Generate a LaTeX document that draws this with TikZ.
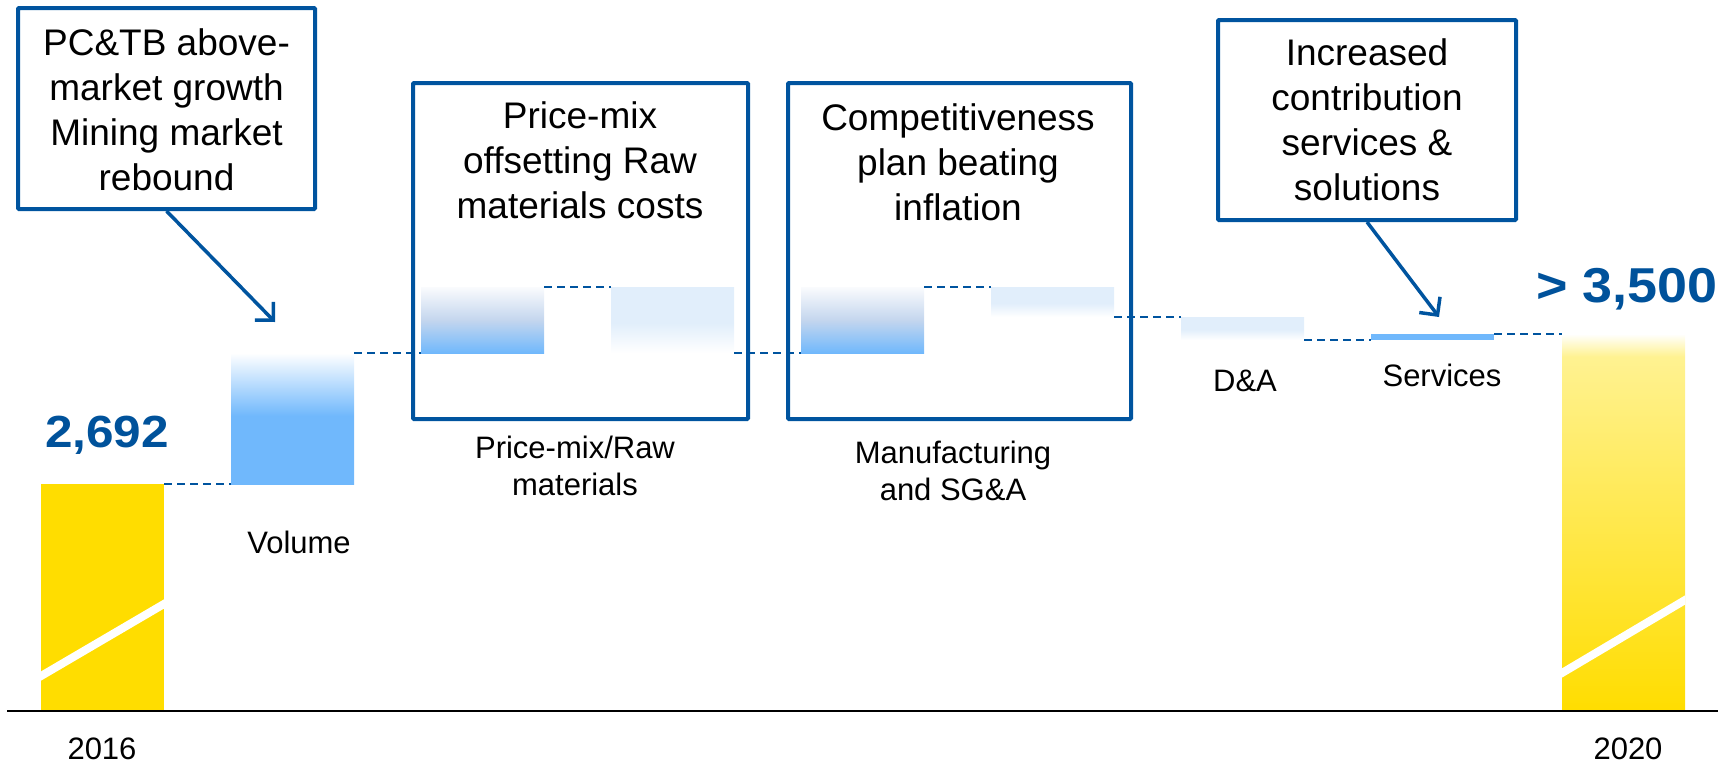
\documentclass[tikz,border=0pt]{standalone}
\usepackage{fontspec}
\setmainfont{Liberation Sans}
\newfontfamily\numfont{Liberation Sans}[FakeStretch=1.1]
\usetikzlibrary{arrows.meta}

\definecolor{boxblue}{RGB}{0,84,159}
\definecolor{numblue}{RGB}{0,82,155}
\definecolor{barblue}{RGB}{112,184,252}
\definecolor{greyblue}{RGB}{196,214,238}
\definecolor{nearwhite}{RGB}{250,251,253}
\definecolor{paleblue}{RGB}{225,238,251}
\definecolor{gold}{RGB}{255,221,0}
\definecolor{paleyellow}{RGB}{255,242,145}

\pgfdeclareverticalshading{volshade}{100bp}{color(0bp)=(barblue); color(51bp)=(barblue); color(75bp)=(white); color(100bp)=(white)}
\pgfdeclareverticalshading{pmshade}{100bp}{color(0bp)=(barblue); color(25bp)=(barblue); color(50bp)=(greyblue); color(75bp)=(nearwhite); color(100bp)=(nearwhite)}
\pgfdeclareverticalshading{fadeshade}{100bp}{color(0bp)=(white); color(25bp)=(white); color(48bp)=(paleblue); color(75bp)=(paleblue); color(100bp)=(paleblue)}
\pgfdeclareverticalshading{yelshade}{100bp}{color(0bp)=(gold); color(25bp)=(gold); color(72bp)=(paleyellow); color(75bp)=(white); color(100bp)=(white)}

\tikzset{
  bar/.style={rectangle, inner sep=0pt, outer sep=0pt, anchor=north west, minimum width=123pt},
  callout/.style={draw=boxblue, line width=4pt, rectangle, inner sep=0pt, rounded corners=1pt},
  conn/.style={draw=boxblue, line width=2.5pt, dash pattern=on 8pt off 5pt},
  pointer/.style={draw=boxblue, line width=3.5pt, -{Straight Barb[length=13pt,width=26pt]}},
  boxtext/.style={font=\fontsize{37}{45}\selectfont, align=center, inner sep=0pt},
  lbl/.style={font=\fontsize{31}{37}\selectfont, align=center, inner sep=0pt},
  num/.style={font=\numfont\bfseries\fontsize{45}{54}\selectfont, text=numblue, inner sep=0pt, anchor=base},
  numbig/.style={font=\numfont\bfseries\fontsize{49}{58}\selectfont, text=numblue, inner sep=0pt, anchor=base},
  stripe/.style={draw=white, line width=8pt}
}

\begin{document}
\begin{tikzpicture}[x=1pt, y=-1pt]
\useasboundingbox (0,0) rectangle (1727,766);

% bars
\node[bar, fill=gold, minimum height=227pt] (b16) at (41,484) {};
\node[bar, shade, shading=volshade, minimum height=131pt] (vol) at (231,353) {};
\node[bar, shade, shading=pmshade, minimum height=66pt] (pm1) at (421,287) {};
\node[bar, shade, shading=fadeshade, minimum height=66pt] (pm2) at (611,287) {};
\node[bar, shade, shading=pmshade, minimum height=66pt] (cm1) at (801,287) {};
\node[bar, shade, shading=fadeshade, minimum height=30pt] (cm2) at (991,287) {};
\node[bar, shade, shading=fadeshade, minimum height=23pt] (da) at (1181,317) {};
\node[bar, fill=barblue, minimum height=6pt] (sv) at (1371,334) {};
\node[bar, shade, shading=yelshade, minimum height=377pt] (b20) at (1562,334) {};

% white stripes
\begin{scope}
  \clip (b16.south west) rectangle (b16.north east);
  \draw[stripe] (31,681.9) -- (174,598.1);
\end{scope}
\begin{scope}
  \clip (b20.south west) rectangle (b20.north east);
  \draw[stripe] (1552,678.9) -- (1695,594.1);
\end{scope}

% axis
\coordinate (axL) at (7,711);
\coordinate (axR) at (1718,711);
\draw[line width=1.5pt] (axL) -- (axR);

% dashed connectors
\draw[conn] (b16.north east) -- (vol.south west);
\draw[conn] (vol.north east) -- (pm1.south west);
\draw[conn] (pm1.north east) -- (pm2.north west);
\draw[conn] (pm2.south east) -- (cm1.south west);
\draw[conn] (cm1.north east) -- (cm2.north west);
\draw[conn] (cm2.south east) -- (da.north west);
\draw[conn] (da.south east) -- (sv.south west);
\draw[conn] (sv.north east) -- (b20.north west);

% boxes
\node[callout, minimum width=297pt, minimum height=201pt] (c1) at (166.5,108.5) {};
\node[callout, minimum width=335pt, minimum height=336pt] (cpm) at (580.5,251) {};
\node[callout, minimum width=343pt, minimum height=336pt] (ccm) at (959.5,251) {};
\node[callout, minimum width=298pt, minimum height=200pt] (c3) at (1367,120) {};

% box texts
\node[boxtext, anchor=north] (t1) at (166.5,28) {PC\&TB above-\\market growth\\Mining market\\rebound};
\node[boxtext, anchor=north] (tpm) at (580,101) {Price-mix\\offsetting Raw\\materials costs};
\node[boxtext, anchor=north] (tcm) at (958,103) {Competitiveness\\plan beating\\inflation};
\node[boxtext, anchor=north] (t3) at (1367,38) {Increased\\contribution\\services \&\\solutions};

% labels
\node[lbl, anchor=base] (lvol) at (299,553) {Volume};
\node[lbl, anchor=north] (lpm) at (575,436) {Price-mix/Raw\\materials};
\node[lbl, anchor=north] (lcm) at (953,441) {Manufacturing\\and SG\&A};
\node[lbl, anchor=base] (lda) at (1245,391) {D\&A};
\node[lbl, anchor=base] (lsv) at (1442,386) {Services};
\node[lbl, anchor=base] (l16) at (102,759) {2016};
\node[lbl, anchor=base] (l20) at (1628,759) {2020};
\node[num] (n16) at (107,447) {2,692};
\node[numbig] (n20) at (1627,302) {> 3,500};

% arrows
\coordinate (a1) at (275,322);
\draw[pointer] (c1.south) -- (a1);
\coordinate (a3) at (1439,317);
\draw[pointer] (c3.south) -- (a3);
\end{tikzpicture}
\end{document}
